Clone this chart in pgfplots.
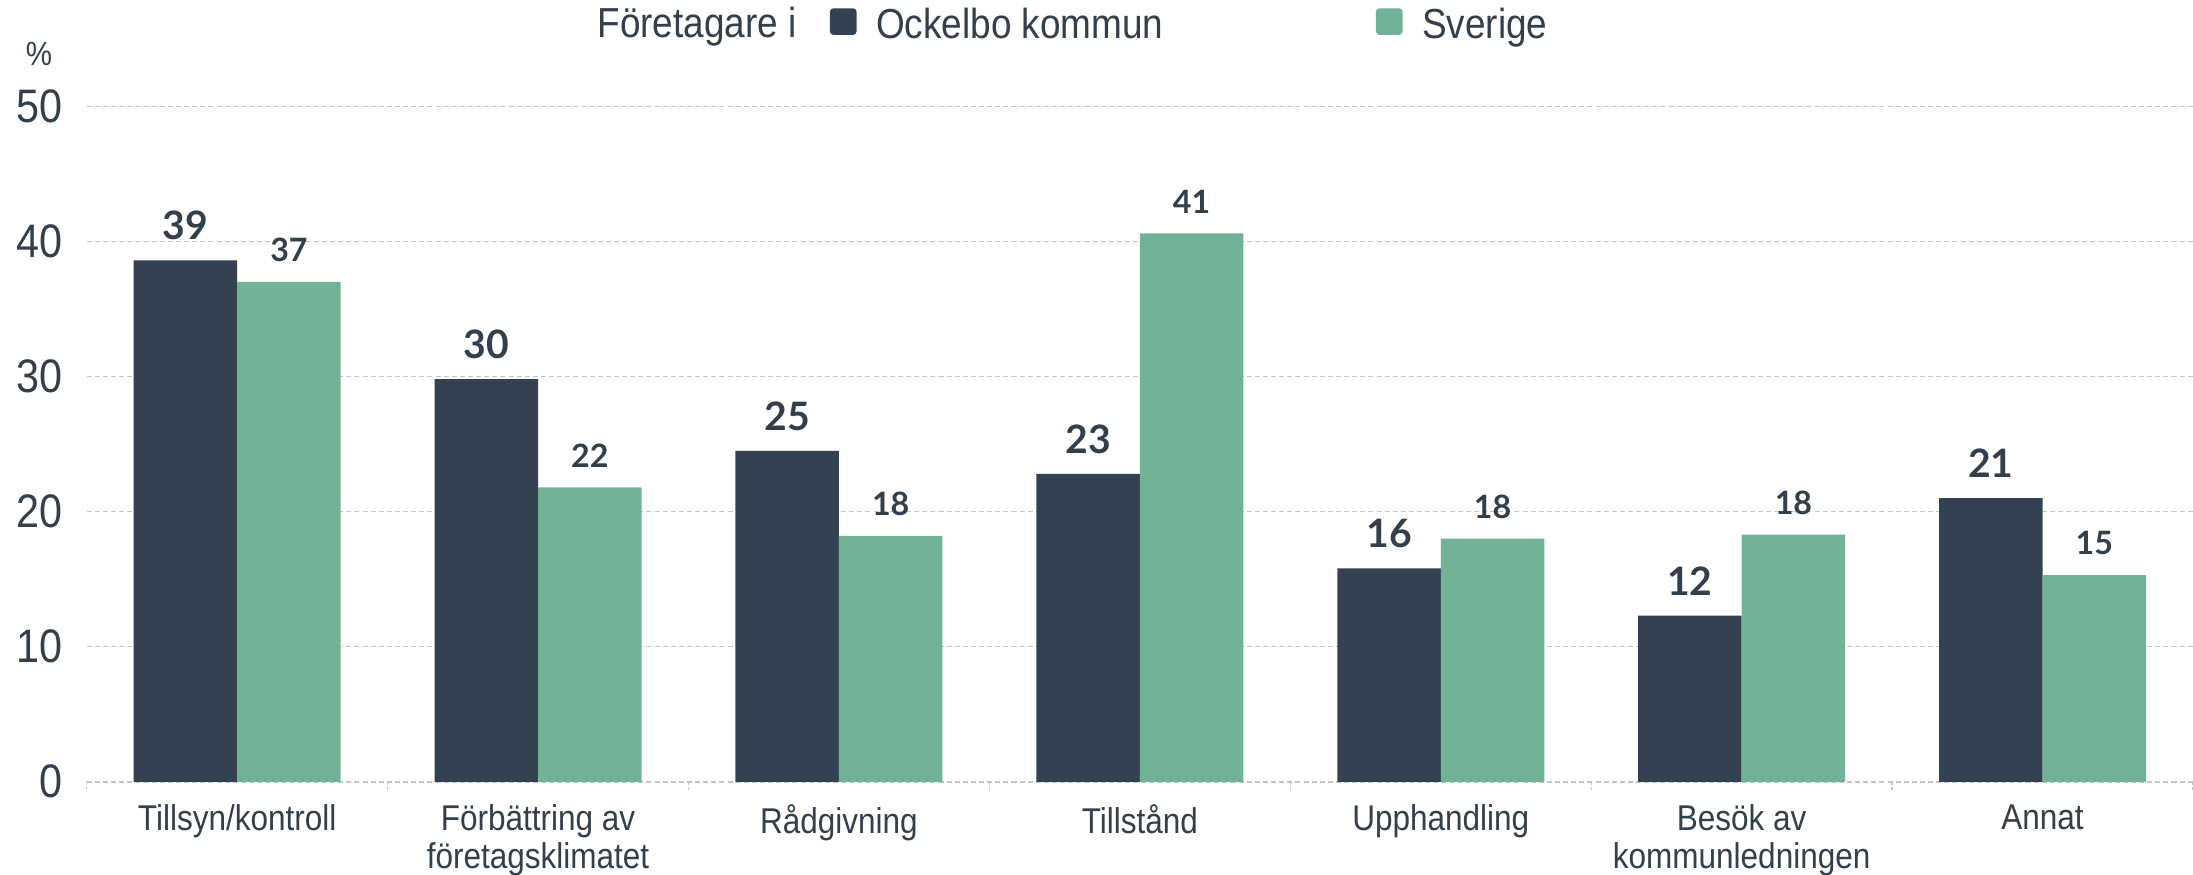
\documentclass[border=0pt]{standalone}
\usepackage{pgfplots}
\pgfplotsset{compat=1.18}
\usepackage{pgfplotstable}
\usepackage{fontspec}
\setmainfont{Liberation Sans}[FakeStretch=0.88]
\newfontfamily\numfont{Lato}
\definecolor{dark}{HTML}{344150}
\definecolor{sgreen}{HTML}{72B397}
\definecolor{txt}{HTML}{333F4B}
\definecolor{gridc}{HTML}{C4C4C4}
\pgfplotstableread{
x y lab
0 38.6 39
1 29.8 30
2 24.5 25
3 22.8 23
4 15.8 16
5 12.3 12
6 21.0 21
}\ockelbo
\pgfplotstableread{
x y lab
0 37.0 37
1 21.8 22
2 18.2 18
3 40.6 41
4 18.0 18
5 18.3 18
6 15.3 15
}\sverige
\begin{document}
\begin{tikzpicture}
\begin{axis}[
  width=753pt, height=241.5pt, scale only axis,
  xmin=-0.5, xmax=6.5, ymin=0, ymax=50,
  ybar, bar width=0.344,
  clip=false,
  axis line style={draw=none},
  ytick={0,10,...,50},
  xtick={0,...,6},
  xtick pos=bottom,
  xticklabels={Tillsyn/kontroll, {Förbättring av\\företagsklimatet}, Rådgivning, Tillstånd, Upphandling, {Besök av\\kommunledningen}, Annat},
  x tick label style={align=center, font=\fontsize{12.8}{13.5}\selectfont, text=txt, anchor=north, inner sep=0pt, yshift=-8pt},
  y tick label style={font=\fontsize{16.8}{18}\selectfont, text=txt, anchor=east, inner sep=0pt, xshift=-8.5pt},
  /pgf/number format/assume math mode=true,
  major tick length=0pt,
  tick align=inside,
  ymajorgrids,
  grid style={draw=gridc, dash pattern=on 1.8pt off 1.1pt, line width=0.5pt},
  extra x ticks={-0.5,0.5,...,6.5},
  extra x tick labels={},
  extra x tick style={major tick length=3pt, tick align=outside, xtick pos=bottom, xmajorgrids=false, tick style={draw=gridc, line width=0.5pt, dash pattern=on 1pt off 1pt}},
  legend columns=2,
  legend style={at={(0.3526,1.120)}, anchor=west, draw=none, fill=none, inner sep=0pt,
    font=\fontsize{15}{16}\selectfont, text=txt,
    nodes={inner sep=0pt},
    /tikz/every odd column/.append style={column sep=7pt},
    /tikz/every even column/.append style={column sep=76pt}},
  sq/.style={legend image code/.code={\fill[##1, rounded corners=1.2pt] (0pt,-3.45pt) rectangle (9.5pt,6.05pt);}},
]
\addplot[fill=dark, draw=none, bar shift=-0.172, sq,
  point meta=explicit symbolic, nodes near coords,
  every node near coord/.append style={font=\numfont\bfseries\fontsize{14}{14}\selectfont, text=txt, inner sep=0pt, yshift=7pt, anchor=south}]
  table[x=x, y=y, meta=lab]{\ockelbo};
\addlegendentry{Ockelbo kommun}
\addplot[fill=sgreen, draw=none, bar shift=0.172, sq,
  point meta=explicit symbolic, nodes near coords,
  every node near coord/.append style={font=\numfont\bfseries\fontsize{11.5}{11.5}\selectfont, text=txt, inner sep=0pt, yshift=7pt, anchor=south}]
  table[x=x, y=y, meta=lab]{\sverige};
\addlegendentry{Sverige}
\node[anchor=base east, font=\fontsize{15}{16}\selectfont, text=txt, inner sep=0pt] at (rel axis cs:0.3373,1.102) {Företagare i};
\node[anchor=base, font=\fontsize{12}{13}\selectfont, text=txt, inner sep=0pt] at (rel axis cs:-0.0226,1.060) {\%};
\end{axis}
\pgfresetboundingbox
\path[use as bounding box] ([xshift=-31pt,yshift=-33pt]current axis.south west) rectangle ([yshift=38pt]current axis.north east);
\end{tikzpicture}
\end{document}
